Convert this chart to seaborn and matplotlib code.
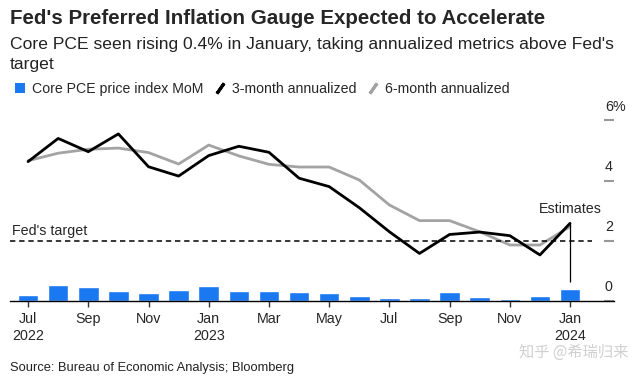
import seaborn as sns
import matplotlib.pyplot as plt
import pandas as pd
from matplotlib.patches import Patch
from matplotlib.lines import Line2D

months = ["Jul 2022", "Aug 2022", "Sep 2022", "Oct 2022", "Nov 2022", "Dec 2022",
          "Jan 2023", "Feb 2023", "Mar 2023", "Apr 2023", "May 2023", "Jun 2023",
          "Jul 2023", "Aug 2023", "Sep 2023", "Oct 2023", "Nov 2023", "Dec 2023",
          "Jan 2024"]
core_mom = [0.19, 0.53, 0.45, 0.33, 0.27, 0.38, 0.49, 0.34, 0.32, 0.30, 0.28, 0.16,
            0.10, 0.09, 0.31, 0.13, 0.05, 0.16, 0.39]
three_month = [4.63, 5.40, 4.96, 5.55, 4.46, 4.15, 4.83, 5.14, 4.94, 4.08, 3.80, 3.10,
               2.30, 1.58, 2.21, 2.29, 2.17, 1.53, 2.58]
six_month = [4.66, 4.91, 5.04, 5.08, 4.93, 4.55, 5.18, 4.82, 4.54, 4.45, 4.45, 4.02,
             3.19, 2.67, 2.67, 2.30, 1.86, 1.86, 2.47]
tick_labels = ["Jul\n2022", "Sep", "Nov", "Jan\n2023", "Mar", "May", "Jul", "Sep", "Nov", "Jan\n2024"]
y_ticks = [0, 2, 4, 6]
y_tick_labels = ["0", "2", "4", "6%"]
fed_target = 2

BLUE = "#1a78f0"
GRAY = "#a3a3a3"

df = pd.DataFrame({"month": months, "pos": range(len(months)), "mom": core_mom,
                   "m3": three_month, "m6": six_month})

sns.set_theme(style="white")
plt.rcParams["font.family"] = ["Liberation Sans", "DejaVu Sans"]

fig = plt.figure(figsize=(6.41, 3.79), dpi=100)
ax = fig.add_axes([10 / 641, 78 / 379, 604 / 641, 201.7 / 379])

sns.barplot(data=df, x="pos", y="mom", native_scale=True, width=0.68, color=BLUE,
            saturation=1, ax=ax)
sns.lineplot(data=df, x="pos", y="m6", color=GRAY, lw=2.0, ax=ax)
sns.lineplot(data=df, x="pos", y="m3", color="black", lw=2.0, ax=ax)

last = len(months) - 1
ax.set_xlim(-0.6, 19.46)
ax.set_ylim(0, 6.7)

# Fed's target
ax.hlines(fed_target, -0.6, last + 0.73, colors="black", lw=1.1, linestyles=(0, (3.5, 2.5)))
ax.text(-0.55, fed_target + 0.1, "Fed's target", fontsize=10.3, va="bottom", ha="left")

# estimates annotation
ax.vlines(last, 0.62, three_month[-1], colors="black", lw=0.9)
ax.text(last, 2.82, "Estimates", fontsize=10.3, ha="center", va="bottom")

# axes styling
for s in ["left", "top", "right"]:
    ax.spines[s].set_visible(False)
ax.spines["bottom"].set_color("black")
ax.spines["bottom"].set_linewidth(1.0)

ax.set_xticks(list(range(0, len(months), 2)))
ax.set_xticklabels(tick_labels, fontsize=10.3, linespacing=1.3)
ax.tick_params(axis="x", length=4, width=1, color="#333333", pad=4, bottom=True)
ax.set_xlabel("")
ax.set_ylabel("")

ax.yaxis.tick_right()
ax.set_yticks(y_ticks)
ax.set_yticklabels([])
ax.tick_params(axis="y", direction="in", length=7.5, width=1.5, color="#999999", right=True)
ytr = ax.get_yaxis_transform()
for v, lab in zip(y_ticks, y_tick_labels):
    ax.text(0.985, v + 0.45, lab, transform=ytr, fontsize=10.3, ha="left", va="center")

# titles
fig.text(10 / 641, 1 - 18 / 379, "Fed's Preferred Inflation Gauge Expected to Accelerate",
         fontsize=14.8, fontweight="bold", va="center", ha="left")
fig.text(10 / 641, 1 - 45 / 379, "Core PCE seen rising 0.4% in January, taking annualized metrics above Fed's",
         fontsize=12.6, va="center", ha="left", color="#222222")
fig.text(10 / 641, 1 - 64 / 379, "target",
         fontsize=12.6, va="center", ha="left", color="#222222")

handles = [
    Patch(facecolor=BLUE, edgecolor="none"),
    Line2D([], [], color="black", ls="none", marker=(2, 2, -35), markersize=9, markeredgewidth=2.2),
    Line2D([], [], color=GRAY, ls="none", marker=(2, 2, -35), markersize=9, markeredgewidth=2.2),
]
fig.legend(handles, ["Core PCE price index MoM", "3-month annualized", "6-month annualized"],
           loc="center left", bbox_to_anchor=(2 / 641, 1 - 89 / 379), ncol=3, frameon=False,
           fontsize=10.2, handlelength=0.75, handleheight=0.75, handletextpad=0.5,
           columnspacing=0.75)

fig.text(10 / 641, 1 - 368 / 379, "Source: Bureau of Economic Analysis; Bloomberg",
         fontsize=9.3, va="center", ha="left", color="#222222")
fig.text(628 / 641, 1 - 352 / 379, "知乎 @希瑞归来", fontsize=11, va="center", ha="right",
         color="#d0d0d0", family=["Noto Sans CJK SC", "DejaVu Sans"])

fig.savefig("out.png", dpi=100)
